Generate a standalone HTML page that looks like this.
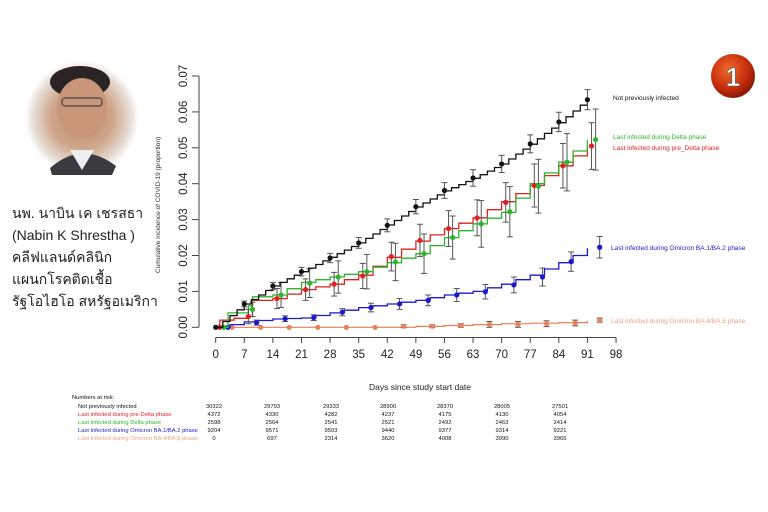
<!DOCTYPE html>
<html><head><meta charset="utf-8"><style>
body{margin:0;width:768px;height:512px;background:#fff;overflow:hidden;font-family:"Liberation Sans",sans-serif;position:relative}
.th{position:absolute;left:12px;font-family:"Liberation Sans","Noto Sans CJK SC","WenQuanYi Zen Hei",sans-serif;font-size:14px;line-height:18px;height:18px;color:#222;white-space:nowrap}
</style></head><body>
<svg id="s" width="768" height="512" style="position:absolute;left:0;top:0" font-family="Liberation Sans, sans-serif">
<defs>
<radialGradient id="ph" cx="50%" cy="50%" r="50%"><stop offset="0%" stop-color="#b98a6c"/><stop offset="55%" stop-color="#cfa78c"/><stop offset="85%" stop-color="#e6ddd5"/><stop offset="100%" stop-color="#fff"/></radialGradient>
<radialGradient id="bd" cx="40%" cy="35%" r="65%"><stop offset="0%" stop-color="#f06a2a"/><stop offset="70%" stop-color="#c42a0c"/><stop offset="100%" stop-color="#8a1a08"/></radialGradient>
</defs>
<circle cx="82" cy="118" r="57" fill="url(#ph)"/>
<ellipse cx="80" cy="82" rx="30" ry="16" fill="#2a2424"/>
<ellipse cx="82" cy="108" rx="25" ry="30" fill="#c99679"/>
<rect x="62" y="98" width="40" height="8" rx="3" fill="none" stroke="#555" stroke-width="1.5"/>
<path d="M50 168 Q82 140 116 166 L112 175 L52 175Z" fill="#3a3a40"/>
<path d="M70 150 L82 170 L94 150Z" fill="#eee"/>
<circle cx="733" cy="76" r="22" fill="url(#bd)"/>
<text x="733" y="86" text-anchor="middle" font-size="26" font-weight="bold" fill="#fff" stroke="#555" stroke-width="0.6">1</text>
<g id="g"></g>
<text x="420" y="390" text-anchor="middle" font-size="8.5" fill="#222">Days since study start date</text>
<text transform="translate(160,205) rotate(-90)" text-anchor="middle" font-size="6.5" fill="#333">Cumulative incidence of COVID-19 (proportion)</text>
<g font-size="6.5">
<text x="613" y="100" fill="#111">Not previously infected</text>
<text x="613" y="139" fill="#2db52d">Last infected during Delta phase</text>
<text x="613" y="150" fill="#d22">Last infected during pre_Delta phase</text>
<text x="611" y="250" fill="#1a1acc">Last infected during Omicron BA.1/BA.2 phase</text>
<text x="611" y="323" fill="#f0a080">Last infected during Omicron BA.4/BA.5 phase</text>
</g>
<g font-size="5.8" id="tb">
<text x="72" y="399" fill="#111">Numbers at risk:</text>
<text x="78" y="408" fill="#111">Not previously infected</text>
<text x="78" y="416" fill="#d22">Last infected during pre-Delta phase</text>
<text x="78" y="424" fill="#2db52d">Last infected during Delta phase</text>
<text x="78" y="432" fill="#1a1acc">Last infected during Omicron BA.1/BA.2 phase</text>
<text x="78" y="440" fill="#f0a080">Last infected during Omicron BA.4/BA.5 phase</text>
</g>
</svg>
<div class="th" style="top:204px">นพ. นาบิน เค เชรสธา</div>
<div class="th" style="top:226px">(Nabin K Shrestha )</div>
<div class="th" style="top:248px">คลีฟแลนด์คลินิก</div>
<div class="th" style="top:270px">แผนกโรคติดเชื้อ</div>
<div class="th" style="top:292px">รัฐโอไฮโอ สหรัฐอเมริกา</div>
<script>
var NS="http://www.w3.org/2000/svg",g=document.getElementById('g'),tb=document.getElementById('tb');
function X(d){return 215.7+4.085*d}function Y(v){return 327.3-3590*v}
function el(n,a,p){var e=document.createElementNS(NS,n);for(var k in a)e.setAttribute(k,a[k]);(p||g).appendChild(e);return e}
function txt(x,y,s,a,p){var e=el('text',a,p);e.setAttribute('x',x);e.setAttribute('y',y);e.textContent=s;return e}
el('line',{x1:199,y1:76,x2:199,y2:327.3,stroke:'#444','stroke-width':1});
for(var i=0;i<=7;i++){var y=Y(i/100);el('line',{x1:192,y1:y,x2:199,y2:y,stroke:'#444'});
 txt(0,0,(i/100).toFixed(2),{'font-size':11.5,'text-anchor':'middle',fill:'#222',transform:'translate(187,'+y+') rotate(-90)'});}
el('line',{x1:X(0),y1:337.5,x2:X(98),y2:337.5,stroke:'#444'});
for(var d=0;d<=98;d+=7){el('line',{x1:X(d),y1:337.5,x2:X(d),y2:343,stroke:'#444'});txt(X(d),358,d,{'font-size':11.5,'text-anchor':'middle',fill:'#222'});}
function step(pts,col,w,sd){var s='M'+X(0)+' '+Y(0);
 for(var j=1;j<pts.length;j++){var a=pts[j-1],b=pts[j];var n=Math.max(1,Math.round((b[0]-a[0])/sd));
  for(var k=1;k<=n;k++){var dd=a[0]+(b[0]-a[0])*k/n,vv=a[1]+(b[1]-a[1])*k/n;s+=' H'+X(dd).toFixed(1)+' V'+Y(vv).toFixed(1);}}
 el('path',{d:s,fill:'none',stroke:col,'stroke-width':w||1.3});}
function marks(m,col){m.forEach(function(p){var x=X(p[0]);if(p[2]){el('line',{x1:x,y1:Y(p[1]-p[2]),x2:x,y2:Y(p[1]+p[2]),stroke:'#555','stroke-width':1});
 [Y(p[1]-p[2]),Y(p[1]+p[2])].forEach(function(yy){el('line',{x1:x-3,y1:yy,x2:x+3,y2:yy,stroke:'#555'})});}
 el('circle',{cx:x,cy:Y(p[1]),r:2.6,fill:col});});}
var O='#e8805a';
step([[0,0],[42,0],[56,.0005],[70,.001],[84,.0013],[91,.0018]],O,1.2,7);
marks([[1,0],[4,0],[11,0],[18,0],[25,0],[32,0],[39,0],[46,.0003,.0004],[53,.0003,.0004],[60,.0005,.0005],[67,.0008,.0008],[74,.0008,.0008],[81,.001,.0008],[88,.0012,.0008],[94,.002,.0006]],O);
step([[0,0],[7,.0015],[14,.0023],[21,.0026],[28,.004],[35,.0055],[42,.0065],[49,.0075],[56,.009],[63,.01],[70,.012],[77,.0145],[84,.018],[91,.022]],'#1a1acc',1.3,3.5);
marks([[3,0],[10,.0013,.0007],[17,.0024,.0008],[24,.0027,.0008],[31,.0042,.001],[38,.0055,.0012],[45,.0065,.0015],[52,.0075,.0015],[59,.009,.0018],[66,.0099,.002],[73,.0118,.0022],[80,.014,.0025],[87,.0183,.0027],[94,.0223,.003]],'#1a1acc');
step([[0,0],[1,.002],[8,.003],[9,.0075],[14,.008],[21,.0105],[28,.012],[35,.0145],[42,.0195],[49,.024],[56,.0275],[63,.0305],[70,.035],[77,.0395],[84,.045],[91,.0505]],'#d22',1.3,3.5);
step([[0,0],[3,.004],[8,.006],[9,.0085],[14,.009],[21,.0125],[28,.014],[35,.0155],[42,.018],[49,.0205],[56,.025],[63,.0288],[70,.032],[77,.04],[84,.046],[91,.0522]],'#2db52d',1.3,3.5);
marks([[1,0],[8,.003,.002],[15,.008,.0028],[22,.0105,.003],[29,.012,.0033],[36,.0143,.0035],[43,.0197,.004],[50,.0242,.0045],[57,.0275,.005],[64,.0305,.005],[71,.0348,.0055],[78,.0395,.006],[85,.045,.0062],[92,.0505,.0065]],'#d22');
marks([[2,0],[9,.005,.002],[16,.009,.0035],[23,.0123,.004],[30,.014,.0045],[37,.0155,.0048],[44,.0182,.0052],[51,.0205,.0055],[58,.025,.006],[65,.0288,.0065],[72,.0322,.007],[79,.0393,.0075],[86,.046,.008],[93,.0523,.0085]],'#2db52d');
step([[0,0],[7,.0065],[14,.0115],[21,.0155],[28,.0195],[35,.0235],[42,.0285],[49,.0335],[56,.038],[63,.0415],[70,.0455],[77,.051],[84,.057],[91,.0635]],'#111',1.3,2);
marks([[0,0],[7,.0065,.0008],[14,.0115,.001],[21,.0155,.0012],[28,.0193,.0013],[35,.0235,.0015],[42,.0284,.0018],[49,.0336,.002],[56,.0381,.0022],[63,.0416,.0023],[70,.0455,.0024],[77,.0511,.0025],[84,.0572,.0027],[91,.0634,.0028]],'#111');
var cols=[214,272,331,388,445,502,560],rows=[[30322,29793,29333,28900,28370,28005,27501],[4372,4330,4282,4237,4175,4130,4054],[2598,2564,2541,2521,2492,2463,2414],[9204,9571,9503,9440,9377,9314,9221],[0,697,2314,3620,4008,3990,3965]];
rows.forEach(function(r,i){r.forEach(function(v,j){txt(cols[j],408+8*i,v,{'text-anchor':'middle',fill:'#111'},tb)})});
</script>
</body></html>
